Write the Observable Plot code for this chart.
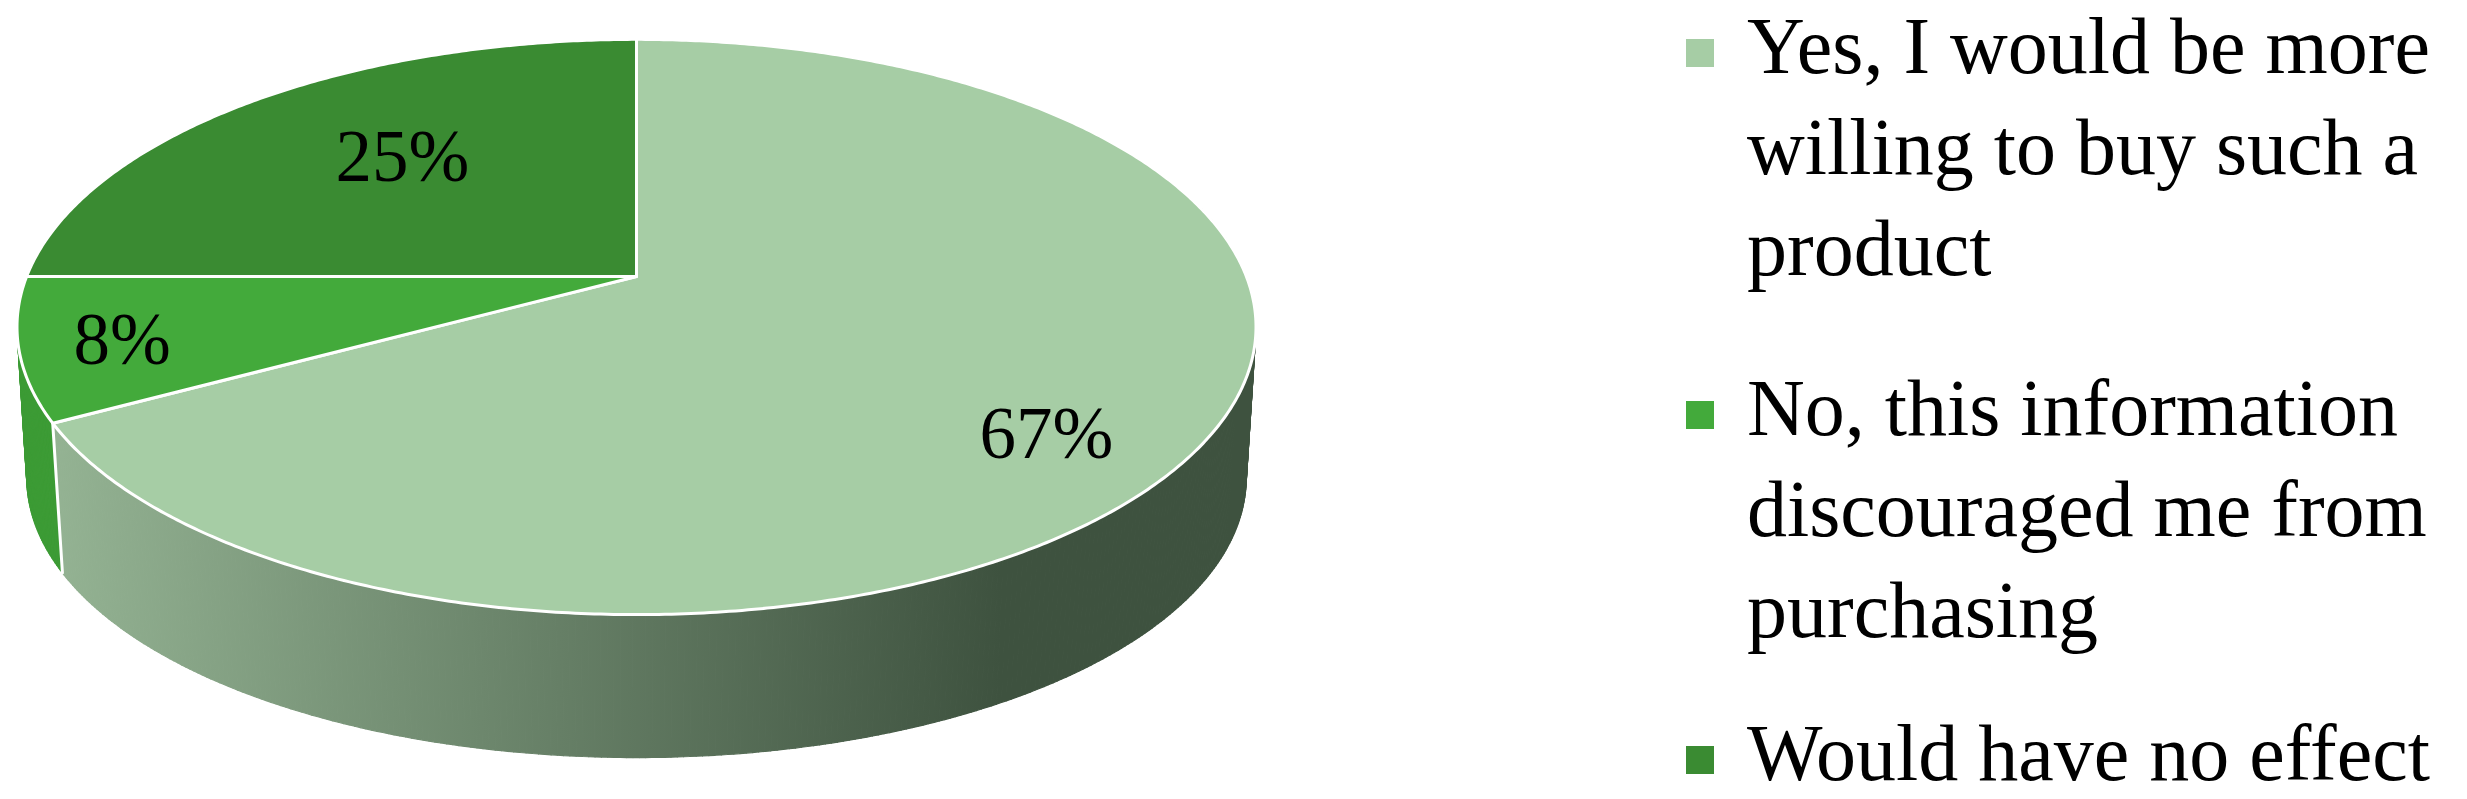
<!DOCTYPE html>
<html>
<head>
<meta charset="utf-8">
<script src="https://cdn.jsdelivr.net/npm/d3@7"></script>
<script src="https://cdn.jsdelivr.net/npm/@observablehq/plot@0.6"></script>
<style>
  html, body { margin: 0; padding: 0; background: #ffffff; }
  #wrap { position: relative; width: 2467px; height: 799px; overflow: hidden; background: #fff; }
  #chart { position: absolute; left: 0; top: 0; }
  #legend { position: absolute; left: 1686px; top: -4px; width: 781px;
            font-family: "Liberation Serif", "Times New Roman", serif; font-size: 80px;
            line-height: 101px; color: #000; }
  .item { position: relative; padding-left: 61px; }
  .item:nth-child(2) { margin-top: 59px; }
  .item:nth-child(3) { margin-top: 42px; }
  .sw { position: absolute; left: 0; top: 43px; width: 28px; height: 28px; }
</style>
</head>
<body>
<div id="wrap"><div id="chart"></div><div id="legend"></div></div>
<script>
// ---- data ----
const categories = [
  "Yes, I would be more willing to buy such a product",
  "No, this information discouraged me from purchasing",
  "Would have no effect"
];
const values = [67, 8, 25];
const topColors = ["#a6cda5", "#43aa3b", "#3a8b32"];
const sideColors = ["url(#sideGrad)", "#3c9b35", "#2f7a2a"];
const percentLabels = values.map(v => `${v}%`);

// ---- view / layout (not data) ----
const W = 1300, H = 799;
const view = {cx: 636, cy: 276, Sx: 2470, Sy: 1605, d: 4.05, elev: 44.7, thick: 0.595, m: 0.15};
const ce = Math.cos(view.elev * Math.PI / 180), se = Math.sin(view.elev * Math.PI / 180);
const labelLayout = [{r: 0.80, dA: -9.6}, {r: 0.84, dA: 0.8}, {r: 0.62, dA: -3}];

function projectXY(x, y, h) {
  const depth = view.d + y * ce - h * se;
  const depthX = view.d + y * ce - view.m * h * se;
  return {px: view.cx + view.Sx * x / depthX, py: view.cy - view.Sy * (y * se + h * ce) / depth};
}
const project = (theta, h) => projectXY(Math.cos(theta), Math.sin(theta), h);

const total = d3.sum(values);
let acc = 0;
const slices = values.map((v, i) => {
  const a0 = Math.PI / 2 - 2 * Math.PI * acc / total;
  acc += v;
  const a1 = Math.PI / 2 - 2 * Math.PI * acc / total;
  return {i, a0, a1, mid: (a0 + a1) / 2};
});

// top faces
const topPts = [];
slices.forEach(s => {
  const c = projectXY(0, 0, 0);
  topPts.push({slice: s.i, ...c});
  const n = Math.max(4, Math.ceil(Math.abs(s.a1 - s.a0) / (Math.PI / 360)));
  for (let k = 0; k <= n; k++) {
    const th = s.a0 + (s.a1 - s.a0) * k / n;
    topPts.push({slice: s.i, ...project(th, 0)});
  }
});

// side strips
const strips = [];
slices.forEach(s => {
  const n = Math.max(2, Math.ceil(Math.abs(s.a1 - s.a0) / (Math.PI / 360)));
  for (let k = 0; k < n; k++) {
    const t0 = s.a0 + (s.a1 - s.a0) * k / n, t1 = s.a0 + (s.a1 - s.a0) * (k + 1) / n;
    const key = Math.sin((t0 + t1) / 2);
    if (key > 0.3) continue;
    const id = `${s.i}-${k}`;
    const quad = [project(t0, 0), project(t1, 0), project(t1, -view.thick), project(t0, -view.thick)];
    strips.push({slice: s.i, id, key, quad});
  }
});
strips.sort((a, b) => b.key - a.key);
const stripPts = slice => strips.filter(s => s.slice === slice)
  .flatMap(s => s.quad.map(p => ({id: s.id, ...p})));

// visible side edges
const edgePts = [];
slices.forEach(s => {
  if (Math.sin(s.a1) < -0.2) {
    edgePts.push({id: s.i, ...project(s.a1, 0)}, {id: s.i, ...project(s.a1, -view.thick)});
  }
});

// labels
const labelData = slices.map(s => {
  const L = labelLayout[s.i];
  const th = s.mid + L.dA * Math.PI / 180;
  return {text: percentLabels[s.i], ...projectXY(L.r * Math.cos(th), L.r * Math.sin(th), 0)};
});

const marks = [];
[2, 1, 0].forEach(i => {
  marks.push(Plot.line(stripPts(i), {
    x: "px", y: "py", z: "id", curve: "linear-closed",
    fill: sideColors[i], stroke: sideColors[i], strokeWidth: 1.2
  }));
});
marks.push(Plot.line(edgePts, {x: "px", y: "py", z: "id", stroke: "white", strokeWidth: 3}));
[0, 1, 2].forEach(i => {
  marks.push(Plot.line(topPts.filter(p => p.slice === i), {
    x: "px", y: "py", curve: "linear-closed",
    fill: topColors[i], stroke: "white", strokeWidth: 3, strokeLinejoin: "round"
  }));
});
marks.push(Plot.text(labelData, {
  x: "px", y: "py", text: "text", fontSize: 73,
  fontFamily: "Liberation Serif, Times New Roman, serif", fill: "black"
}));

const plot = Plot.plot({
  width: W, height: H, margin: 0,
  x: {domain: [0, W], range: [0, W], axis: null},
  y: {domain: [0, H], range: [0, H], axis: null},
  style: {background: "white", overflow: "visible"},
  marks
});

// gradient for the side of the first slice
const xs = plot.scale("x");
const defs = d3.select(plot).insert("defs", ":first-child");
const grad = defs.append("linearGradient").attr("id", "sideGrad")
  .attr("gradientUnits", "userSpaceOnUse")
  .attr("x1", xs.apply(40)).attr("x2", xs.apply(1000)).attr("y1", 0).attr("y2", 0);
grad.append("stop").attr("offset", 0).attr("stop-color", "#95b494");
grad.append("stop").attr("offset", 1).attr("stop-color", "#3e523f");

document.getElementById("chart").appendChild(plot);

// legend
const legend = d3.select("#legend");
categories.forEach((c, i) => {
  const item = legend.append("div").attr("class", "item");
  item.append("div").attr("class", "sw").style("background", topColors[i]);
  item.append("span").text(c);
});
</script>
</body>
</html>
